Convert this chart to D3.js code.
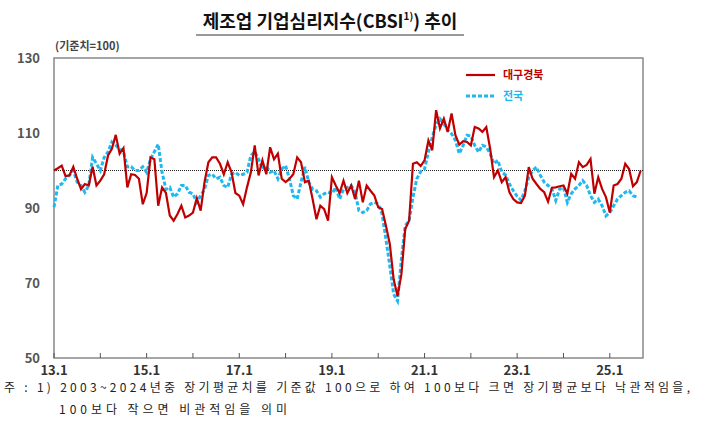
<!DOCTYPE html>
<html><head><meta charset="utf-8">
<script src="https://cdn.jsdelivr.net/npm/d3@7"></script>
<style>body{margin:0;background:#fff;font-family:"Noto Sans CJK KR","Noto Sans",sans-serif}</style>
</head><body><div id="container"></div>
<script>
// 2013.01 ~ 2025.09 monthly
const startYear = 2013;
const daeguGyeongbuk = [100,100.6,101.3,98.5,98.7,101,97.8,95,96.4,96,101,96,97.3,99,104,105.8,109.5,104.5,106,95.5,99,98.8,97.8,91,94,103.5,103,90.6,95.5,94,88,86.6,88.4,90.6,87.5,88,88.8,92.6,89.3,96.9,102.2,103.5,103.5,101.8,99,102.2,99.5,94,93.3,91,95.5,99.5,106.7,98.7,102.7,99,106.2,103,104.5,97.8,96.9,97.8,99,103.5,102.2,96.9,97.3,92.4,87,90.6,89.7,86.6,98.2,96,94,97.3,94,96,92.4,97.3,91.5,96,
  94.6,93.3,90.2,89.7,85.3,80.4,71,66.5,72.3,84.4,86.6,101.8,102.2,101.2,102.7,108,105.4,116.1,111.2,113.8,110.3,115.2,109.4,106.9,107.8,107.6,106.7,111.6,111.2,110.3,111.6,105.8,98.2,100,96.9,98.2,94.2,92.4,91.5,91.3,93.3,100.9,97.8,96.4,95.1,94.2,91.7,95.4,95.5,95.8,96,93.8,99.1,97.8,102.2,100.9,101.5,103.1,93.8,98.2,95.1,92.9,88.8,96,96.4,97.8,101.8,100.4,95.8,96.9,100];
const national = [90.2,96,96.4,97.8,98.7,100,96.9,96,94.2,96,103.5,101.8,100,103.5,105,107.6,106.7,105.8,105,101,101,100,100,101,99.5,103,105,107,99.5,95,95.5,92.9,93.8,96,96,94.2,93.8,91.5,93.3,95,98.7,99,97.8,98.2,96,95.5,99,99.5,98.7,99,99.5,104,105,103,100.4,101.3,99.5,100,97.8,100.4,101.3,97.8,93.3,92.4,96.9,101,96.9,95,94.6,92.9,93.8,94.2,93.8,95.5,92.4,95,95.5,96,94.2,89.3,88.8,89.3,
  91.1,91.5,91.1,88.4,81.7,74.6,67,65.2,76.3,85.3,86.6,92.9,97.8,99.7,100.4,104.9,108.9,112.2,113.8,112.5,110.7,109.8,108,104.5,106.7,109.4,109.2,106.7,104.9,106.7,106.3,104.5,101.8,102.7,99.6,98.8,96.4,94.6,93.1,92.1,94.6,98.2,100,100.9,98.7,96.9,96,95.1,92,95.1,95.5,91.5,93.8,95.1,96,97.3,96,93.3,91.5,92.4,90.6,87.9,88.8,90.6,92.4,93.3,94.2,94.6,93.3,92.9];
const yTicks = [50,70,90,110,130];
const xTickLabels = ["13.1","15.1","17.1","19.1","21.1","23.1","25.1"];

const W = 710, H = 433;
const svg = d3.select("#container").append("svg").attr("width", W).attr("height", H);

const x = d3.scaleLinear().domain([0, 152.6]).range([54, 643]);
const y = d3.scaleLinear().domain([50, 130]).range([358, 58]);

// title
const title = svg.append("text").attr("x", 330).attr("y", 28).attr("text-anchor", "middle")
  .attr("font-size", 18).attr("font-weight", "bold").attr("fill", "#111");
title.append("tspan").text("제조업 기업심리지수(CBSI");
title.append("tspan").attr("font-size", 10).attr("dy", -8).text("1)");
title.append("tspan").attr("dy", 8).text(") 추이");
svg.append("line").attr("x1", 196).attr("x2", 464).attr("y1", 35).attr("y2", 35).attr("stroke", "#333");

svg.append("text").attr("x", 55).attr("y", 50).attr("font-size", 11).attr("font-weight", "bold")
  .attr("fill", "#444").text("(기준치=100)");

// frame
svg.append("rect").attr("x", 54).attr("y", 58).attr("width", 589).attr("height", 300)
  .attr("fill", "none").attr("stroke", "#888").attr("stroke-width", 1.5);

// y labels
svg.selectAll(".yl").data(yTicks).enter().append("text")
  .attr("x", 40).attr("y", d => y(d) + 5).attr("text-anchor", "end")
  .attr("font-size", 13).attr("font-weight", "bold").attr("fill", "#555").text(d => d);

// x ticks every 12 months
svg.selectAll(".xt").data(d3.range(0, 153, 12)).enter().append("line")
  .attr("x1", d => x(d)).attr("x2", d => x(d)).attr("y1", 358).attr("y2", 353)
  .attr("stroke", "#555");
svg.selectAll(".xl").data(xTickLabels).enter().append("text")
  .attr("x", (d, i) => x(i * 24)).attr("y", 375).attr("text-anchor", "middle")
  .attr("font-size", 13).attr("font-weight", "bold").attr("fill", "#333").text(d => d);

// base line 100
svg.append("line").attr("x1", 54).attr("x2", 643).attr("y1", y(100)).attr("y2", y(100))
  .attr("stroke", "#222").attr("stroke-width", 1.2).attr("stroke-dasharray", "1,1");

const line = d3.line().x((d, i) => x(i)).y(d => y(d));
svg.append("path").datum(national).attr("d", line).attr("fill", "none")
  .attr("stroke", "#1fb8f0").attr("stroke-width", 3).attr("stroke-dasharray", "4,2");
svg.append("path").datum(daeguGyeongbuk).attr("d", line).attr("fill", "none")
  .attr("stroke", "#c00000").attr("stroke-width", 2.2);

// legend
svg.append("line").attr("x1", 466).attr("x2", 495).attr("y1", 75).attr("y2", 75)
  .attr("stroke", "#c00000").attr("stroke-width", 2.2);
svg.append("text").attr("x", 503).attr("y", 79).attr("font-size", 11).attr("font-weight", "bold")
  .attr("fill", "#c00000").text("대구경북");
svg.append("line").attr("x1", 466).attr("x2", 495).attr("y1", 96).attr("y2", 96)
  .attr("stroke", "#1fb8f0").attr("stroke-width", 3).attr("stroke-dasharray", "4,2");
svg.append("text").attr("x", 503).attr("y", 100).attr("font-size", 11).attr("font-weight", "bold")
  .attr("fill", "#1fb8f0").text("전국");

// footnote
svg.append("text").attr("x", 4).attr("y", 392).attr("font-size", 12).attr("fill", "#222")
  .attr("textLength", 686).attr("lengthAdjust", "spacing")
  .text("주 : 1) 2003~2024년중 장기평균치를 기준값 100으로 하여 100보다 크면 장기평균보다 낙관적임을,");
svg.append("text").attr("x", 59).attr("y", 414).attr("font-size", 12).attr("fill", "#222")
  .attr("textLength", 228).attr("lengthAdjust", "spacing")
  .text("100보다 작으면 비관적임을 의미");
</script></body></html>
